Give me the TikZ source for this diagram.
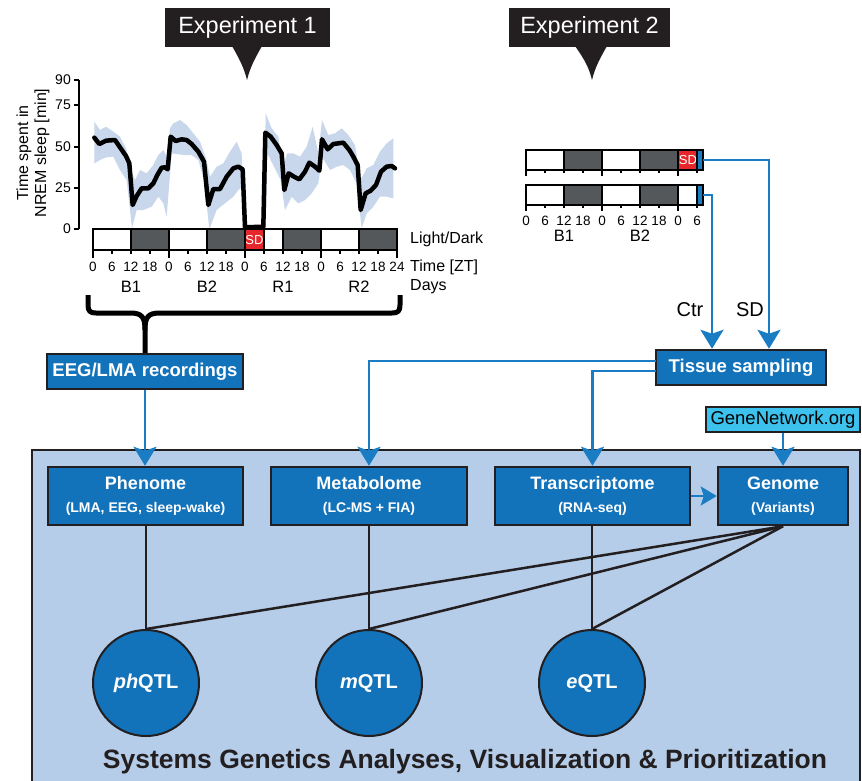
\documentclass[tikz,border=0pt]{standalone}
\usepackage{fontspec}
\setmainfont{Liberation Sans}
\usetikzlibrary{arrows.meta}
\definecolor{boxblue}{HTML}{1273BA}
\definecolor{lineblue}{HTML}{1A7DC4}
\definecolor{panelblue}{HTML}{B5CDE9}
\definecolor{bandblue}{HTML}{C9D7EC}
\definecolor{darkbar}{HTML}{54585A}
\definecolor{sdred}{HTML}{E5272B}
\definecolor{ink}{HTML}{231F20}
\definecolor{cyanbox}{HTML}{3DC2EE}
\newcommand\myfs[1]{\fontsize{#1}{#1}\selectfont}
\begin{document}
\begin{tikzpicture}[x=1pt,y=-1pt,
  bluebox/.style={draw=ink, line width=2.5pt, fill=boxblue, text=white, font=\myfs{18.5}\bfseries, inner sep=0pt},
  bigbox/.style={draw=ink, line width=2.5pt, fill=boxblue, text=white, font=\myfs{18}\bfseries, inner sep=0pt, align=center, minimum height=58pt},
  qtl/.style={circle, draw=ink, line width=2pt, fill=boxblue, text=white, minimum size=106pt, inner sep=0pt, font=\myfs{20}\bfseries},
  blueline/.style={draw=lineblue, line width=2.5pt},
  bluearrow/.style={blueline, -{Stealth[length=19pt,width=23pt,inset=4pt]}},
  smallarrow/.style={blueline, -{Stealth[length=16pt,width=19pt,inset=3pt]}},
  blackline/.style={draw=ink, line width=2.5pt},
  ticklbl/.style={font=\myfs{13.5}, inner sep=0pt},
  daylbl/.style={font=\myfs{16.5}, inner sep=0pt},
  sidelbl/.style={font=\myfs{16}, inner sep=0pt, anchor=west},
  callout/.style={fill=ink, text=white, font=\myfs{23.5}, minimum width=165pt, minimum height=39pt, inner sep=0pt},
  barframe/.style={draw=black, line width=2pt},
]
\useasboundingbox (0,0) rectangle (862,780);
\clip (0,0) rectangle (862,780);
\fill[white] (0,0) rectangle (862,780);

% ---------- callouts ----------
\node[callout] (exp1) at (247.5,27.5) {Experiment 1};
\fill[ink] (232,46) -- (262,46) .. controls (254,60) and (250,68) .. (247,80) .. controls (244,68) and (240,60) .. cycle;
\node[callout, minimum width=161pt] (exp2) at (589.5,27.5) {Experiment 2};
\fill[ink] (575,46) -- (607,46) .. controls (599,60) and (595,68) .. (592,80) .. controls (589,68) and (585,60) .. cycle;

% ---------- sleep graph ----------
\begin{scope}[shift={(0,70)}, x={(0.33333pt,0pt)}, y={(0pt,-0.33333pt)}]
\fill[bandblue] (283,155) -- (300,180) -- (318,170) -- (340,185) -- (360,200) -- (378,235) -- (393,300) -- (405,330) -- (420,300) -- (440,310) -- (460,285) -- (475,255) -- (490,240) -- (500,260) -- (510,175) -- (520,160) -- (540,150) -- (560,165) -- (580,190) -- (600,215) -- (618,265) -- (630,320) -- (650,290) -- (670,280) -- (690,245) -- (710,215) -- (725,250) -- (732,470) -- (792,468) -- (797,130) -- (815,175) -- (835,200) -- (848,290) -- (862,250) -- (880,250) -- (900,260) -- (920,230) -- (938,170) -- (955,250) -- (966,150) -- (985,195) -- (1005,190) -- (1025,175) -- (1045,195) -- (1065,225) -- (1082,330) -- (1100,295) -- (1120,285) -- (1140,245) -- (1160,220) -- (1180,205)
 -- (1180,385) -- (1160,380) -- (1140,380) -- (1120,410) -- (1100,430) -- (1085,475) -- (1070,340) -- (1050,300) -- (1030,285) -- (1010,290) -- (990,300) -- (966,260) -- (955,340) -- (935,370) -- (915,390) -- (895,400) -- (875,380) -- (855,420) -- (842,330) -- (822,290) -- (802,250) -- (797,478) -- (732,478) -- (728,350) -- (715,360) -- (700,380) -- (675,400) -- (650,420) -- (628,478) -- (612,330) -- (595,270) -- (575,255) -- (550,255) -- (515,250) -- (500,440) -- (490,400) -- (475,380) -- (455,410) -- (430,420) -- (410,420) -- (396,475) -- (380,330) -- (360,300) -- (340,260) -- (318,262) -- (300,270) -- (283,280) -- cycle;
\draw[black, line width=4.5pt, line join=round, line cap=round] (283,203) -- (298,222) -- (318,212) -- (345,210) -- (360,232) -- (378,258) -- (388,280) -- (398,405) -- (410,378) -- (425,355) -- (445,355) -- (460,340) -- (472,315) -- (485,293) -- (495,292) -- (503,298) -- (512,200) -- (527,213) -- (545,208) -- (560,210) -- (575,222) -- (595,245) -- (612,275) -- (625,405) -- (640,357) -- (660,357) -- (680,320) -- (700,295) -- (715,290) -- (728,298) -- (735,472) -- (790,470) -- (796,188) -- (812,200) -- (830,225) -- (845,250) -- (853,360) -- (866,310) -- (882,320) -- (898,328) -- (915,305) -- (928,278) -- (945,290) -- (958,302) -- (966,208) -- (983,238) -- (1000,222) -- (1015,220) -- (1030,218) -- (1048,240) -- (1060,260) -- (1073,285) -- (1082,420) -- (1097,370) -- (1112,362) -- (1128,345) -- (1143,305) -- (1160,290) -- (1175,288) -- (1185,295);
\end{scope}

% y axis
\draw[black, line width=1.5pt] (79,80) -- (79,229);
\foreach \v/\yy in {90/80,75/105,50/147,25/188,0/229} {
  \draw[black, line width=1.5pt] (74,\yy) -- (79,\yy);
  \node[font=\myfs{14}, inner sep=0pt, anchor=east] (yl\v) at (71,\yy) {\v};
}
\node[font=\myfs{16}, rotate=90, inner sep=0pt] (ytitle1) at (24,153) {Time spent in};
\node[font=\myfs{16}, rotate=90, inner sep=0pt] (ytitle2) at (42,153) {NREM sleep [min]};

% light/dark bar experiment 1
\fill[white] (93,229) rectangle (397,250);
\foreach \a in {131,207,283,359} { \fill[darkbar] (\a,229) rectangle ++(38,21); }
\fill[sdred] (245,229) rectangle (264,250);
\node[font=\myfs{13}, text=white, inner sep=0pt] (sd1) at (254.5,240) {SD};
\draw[barframe] (93,229) rectangle (397,250);
\foreach \a in {131,169,207,245,264,283,321,359} { \draw[barframe] (\a,229) -- (\a,250); }
\foreach \k in {0,4,8,12,16} { \draw[black, line width=1.5pt] ({93+19*\k},250) -- ++(0,8); }
\foreach \k in {1,2,3,5,6,7,9,10,11,13,14,15} { \draw[black, line width=1.5pt] ({93+19*\k},250) -- ++(0,4); }
\foreach \t [count=\k from 0] in {0,6,12,18,0,6,12,18,0,6,12,18,0,6,12,18,24} {
  \node[ticklbl] (ta\k) at ({93+19*\k},267) {\t};
}
\node[daylbl] (dB1) at (131,287) {B1};
\node[daylbl] (dB2) at (207,287) {B2};
\node[daylbl] (dR1) at (283,287) {R1};
\node[daylbl] (dR2) at (359,287) {R2};
\node[sidelbl] (ld) at (410,239) {Light/Dark};
\node[sidelbl] (tz) at (410,267) {Time [ZT]};
\node[sidelbl] (dy) at (410,287) {Days};

% brace
\draw[black, line width=5pt, line join=round] (88,295) -- (88,305) .. controls (88,311) and (90,313) .. (96,313) -- (130,313) .. controls (142,313) and (145,317) .. (145,330) -- (145,353);
\draw[black, line width=5pt, line join=round] (145,330) .. controls (145,317) and (148,313) .. (160,313) -- (392,313) .. controls (398,313) and (400,311) .. (400,305) -- (400,295);

% ---------- experiment 2 bars ----------
\foreach \yy in {150,185} {
  \fill[white] (526,\yy) rectangle (697,\yy+19.5);
  \fill[darkbar] (564,\yy) rectangle (602,\yy+19.5);
  \fill[darkbar] (640,\yy) rectangle (678,\yy+19.5);
  \fill[lineblue] (697,\yy) rectangle (703,\yy+19.5);
}
\fill[sdred] (678,150) rectangle (697,169.5);
\node[font=\myfs{13}, text=white, inner sep=0pt] (sd2) at (688,160) {SD};
\foreach \yy in {150,185} {
  \draw[barframe] (526,\yy) rectangle (703,\yy+19.5);
  \foreach \a in {564,602,640,678,697} { \draw[barframe] (\a,\yy) -- (\a,\yy+19.5); }
  \foreach \k in {0,4,8} { \draw[black, line width=1.5pt] ({526+19*\k},\yy+19.5) -- ++(0,6); }
  \foreach \k in {1,2,3,5,6,7,9} { \draw[black, line width=1.5pt] ({526+19*\k},\yy+19.5) -- ++(0,3.5); }
}
\foreach \t [count=\k from 0] in {0,6,12,18,0,6,12,18,0,6} {
  \node[ticklbl] (tb\k) at ({526+19*\k},221) {\t};
}
\node[daylbl] (eB1) at (564,236) {B1};
\node[daylbl] (eB2) at (640,236) {B2};
\coordinate (bar1end) at (703,160);
\coordinate (bar2end) at (703,195);

% ---------- upper boxes ----------
\node[bluebox, minimum width=196pt, minimum height=35pt] (eeg) at (145,371.5) {EEG/LMA recordings};
\node[bluebox, minimum width=170pt, minimum height=35pt] (tissue) at (741,367.5) {Tissue sampling};
\node[font=\myfs{20}, inner sep=0pt] (ctr) at (690,310) {Ctr};
\node[font=\myfs{20}, inner sep=0pt] (sdl) at (750,310) {SD};

\draw[bluearrow] (bar1end) -| ([xshift=28pt]tissue.north);
\draw[bluearrow] (bar2end) -| ([xshift=-29pt]tissue.north);

% ---------- panel ----------
\draw[draw=ink, line width=2.5pt, fill=panelblue] (32,450) rectangle (860,800);

\node[draw=ink, line width=2pt, fill=cyanbox, font=\myfs{18.5}, minimum width=154pt, minimum height=25pt, inner sep=0pt] (gn) at (783,419.5) {GeneNetwork.org};

\node[bigbox, minimum width=195pt] (pheno) at (145.5,496) {Phenome\\[5pt]\myfs{14}(LMA, EEG, sleep-wake)};
\node[bigbox, minimum width=196pt] (metab) at (369,496) {Metabolome\\[5pt]\myfs{14}(LC-MS + FIA)};
\node[bigbox, minimum width=195pt] (trans) at (592.5,496) {Transcriptome\\[5pt]\myfs{14}(RNA-seq)};
\node[bigbox, minimum width=130pt] (genome) at (783,496) {Genome\\[5pt]\myfs{14}(Variants)};

\node[qtl] (phqtl) at (146,683) {\textit{ph}QTL};
\node[qtl] (mqtl) at (369,683) {\textit{m}QTL};
\node[qtl] (eqtl) at (592,683) {\textit{e}QTL};

% connectors
\coordinate (ts1) at (656,361);
\coordinate (ts2) at (656,371);
\draw[bluearrow] (eeg.south) -- (eeg.south |- pheno.north);
\draw[bluearrow] (ts1) -| (metab.north);
\draw[bluearrow] (ts2) -| (trans.north);
\draw[bluearrow] (gn.south) -- (genome.north);
\draw[smallarrow] (trans.east) -- (genome.west);

\draw[blackline] (phqtl.north |- pheno.south) -- (phqtl.north);
\draw[blackline] (metab.south) -- (mqtl.north);
\draw[blackline] (eqtl.north |- trans.south) -- (eqtl.north);
\draw[blackline] (genome.south) -- (phqtl.north);
\draw[blackline] (genome.south) -- (mqtl.north);
\draw[blackline] (genome.south) -- (eqtl.north);

\node[font=\myfs{26.5}\bfseries, text=ink, inner sep=0pt] (title) at (465,762) {Systems Genetics Analyses, Visualization \& Prioritization};
\end{tikzpicture}
\end{document}
